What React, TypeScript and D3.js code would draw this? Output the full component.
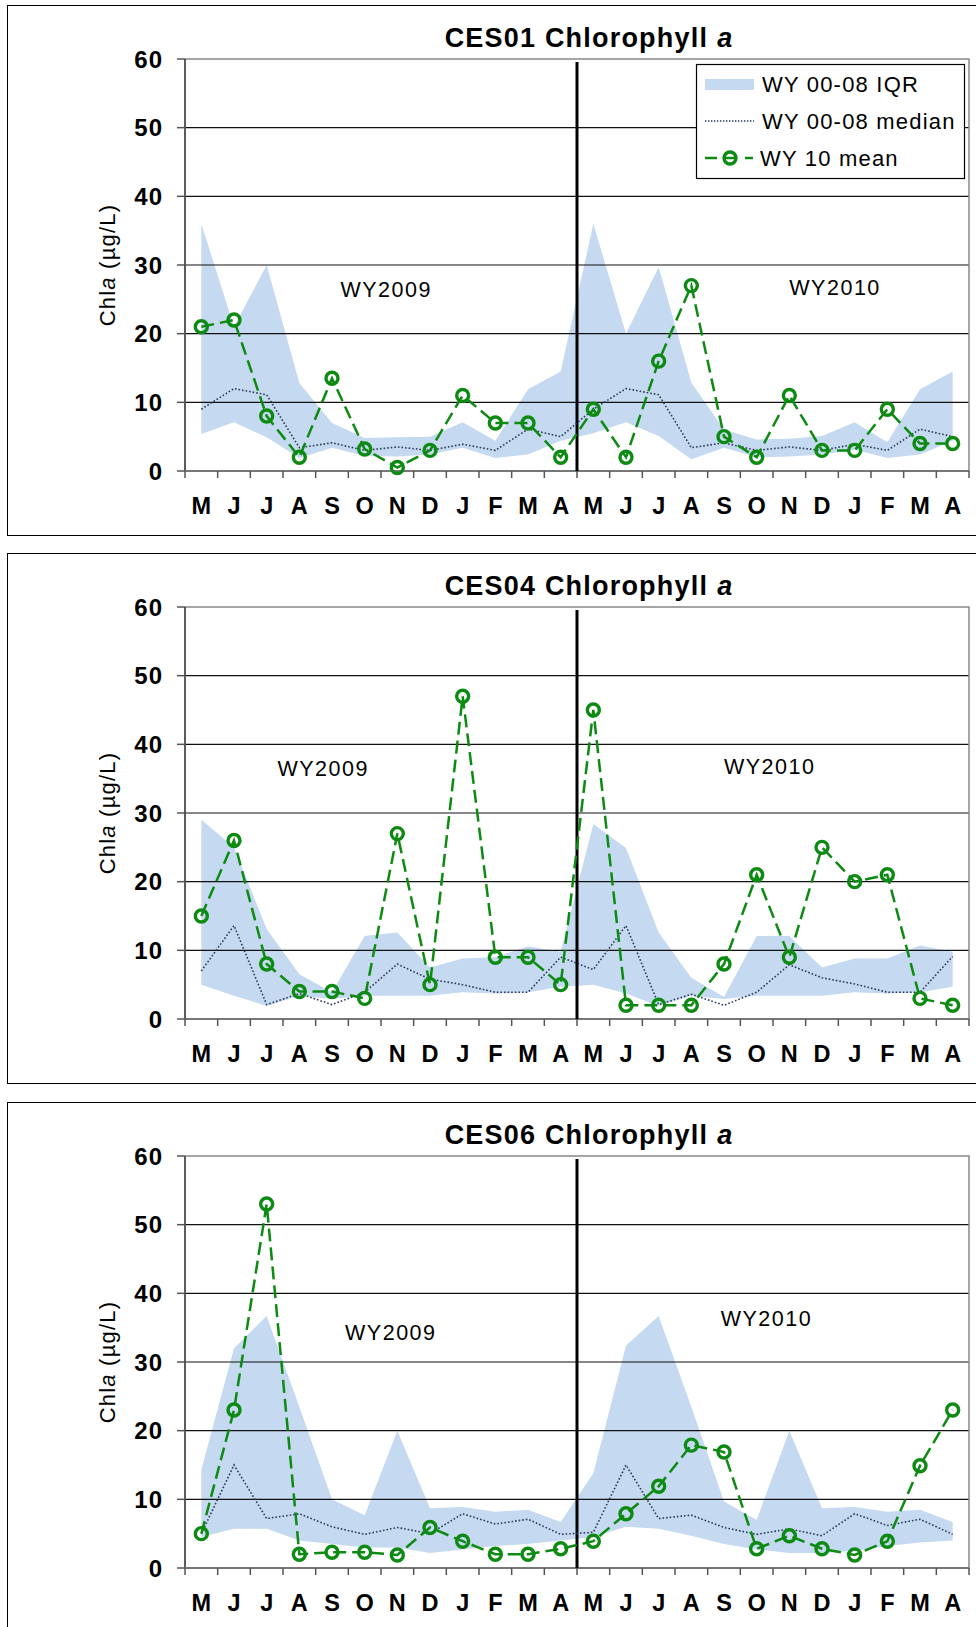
import React from 'react';
import * as d3 from 'd3';

// month of the two water years, May 2008 .. Apr 2010
const monthLabels = ['M', 'J', 'J', 'A', 'S', 'O', 'N', 'D', 'J', 'F', 'M', 'A',
  'M', 'J', 'J', 'A', 'S', 'O', 'N', 'D', 'J', 'F', 'M', 'A'];
const yTicks = [0, 10, 20, 30, 40, 50, 60];

// CES01
const ces01Mean = [21, 22, 8, 2, 13.5, 3.2, 0.5, 3, 11, 7, 7, 2, 9, 2, 16, 27, 5, 2, 11, 3, 3, 9, 4, 4];
const ces01Median = [9, 12, 11.1, 3.4, 4.1, 3, 3.5, 3, 3.9, 3, 6.1, 5, 9, 12, 11.1, 3.4, 4.1, 3, 3.5, 3, 3.9, 3, 6.1, 5];
const ces01Q3 = [36, 21, 30, 12.8, 7, 4.8, 4.9, 5, 7.1, 4.4, 11.9, 14.5, 36, 20, 29.7, 12.9, 6, 4.6, 4.7, 5.1, 7.1, 4.2, 11.9, 14.5];
const ces01Q1 = [5.4, 7.1, 4.9, 1.9, 3.4, 2.2, 2.1, 2.4, 3.4, 1.9, 2.4, 4.4, 5.5, 7.1, 5.1, 1.7, 3.4, 2, 2.1, 2.4, 3.1, 1.9, 2.4, 4.4];

// CES04
const ces04Mean = [15, 26, 8, 4, 4, 3, 27, 5, 47, 9, 9, 5, 45, 2, 2, 2, 8, 21, 9, 25, 20, 21, 3, 2];
const ces04Median = [7, 13.6, 2.1, 3.7, 2.1, 3.9, 8, 5.8, 5, 3.9, 3.9, 9, 7.2, 13.6, 2.1, 3.6, 2, 3.9, 7.9, 6, 5.1, 3.9, 3.9, 9.1];
const ces04Q3 = [29, 25, 13.1, 6.5, 3.9, 12.1, 12.6, 7.5, 8.8, 9, 10.6, 9.8, 28.4, 24.9, 12.6, 6, 3.2, 12.1, 12.1, 7.5, 8.8, 8.8, 10.7, 9.8];
const ces04Q1 = [5, 3.4, 1.9, 3.4, 2.9, 3.4, 3.4, 3.4, 3.9, 3.7, 3.9, 4.7, 5, 3.7, 1.9, 3.4, 2.9, 3.4, 3.4, 3.4, 3.9, 3.7, 3.9, 4.7];

// CES06
const ces06Mean = [5, 23, 53, 2, 2.3, 2.3, 1.9, 5.9, 3.9, 2, 2, 2.8, 3.9, 7.9, 11.9, 17.9, 16.9, 2.8, 4.7, 2.8, 1.9, 3.9, 14.9, 23];
const ces06Median = [5, 15, 7.2, 7.9, 6, 4.9, 5.9, 5, 7.9, 6.4, 7.1, 4.9, 5.2, 15, 7.2, 7.7, 5.9, 4.9, 5.7, 4.7, 7.9, 6.2, 7.1, 4.9];
const ces06Q3 = [14.3, 32, 36.7, 23.5, 10, 7.7, 20, 8.7, 8.9, 8.2, 8.5, 6.7, 13.8, 32.4, 36.7, 23.5, 9.7, 7, 20, 8.7, 8.9, 8.2, 8.5, 6.7];
const ces06Q1 = [4.5, 5.7, 5.7, 4, 3.5, 3, 3, 2.2, 2.7, 3.2, 3.5, 4, 4.5, 6, 5.7, 4.7, 3.5, 2.7, 2.2, 2.2, 2.5, 3.2, 3.7, 4];

const FONT = '"Liberation Sans", Arial, sans-serif';
const GREEN = '#0d8a12';
const BAND = '#c5daf0';

function Panel({ top, station, mean, median, q1, q3, wy09, wy10, legend }) {
  const left = 185, right = 969;
  const plotTop = top + 54, plotBottom = top + 466;

  const x = d3.scaleBand().domain(d3.range(monthLabels.length)).range([left, right]);
  const cx = (i) => x(i) + x.bandwidth() / 2;
  const y = d3.scaleLinear().domain([0, 60]).range([plotBottom, plotTop]);

  const band = d3.area().x((d, i) => cx(i)).y0((d, i) => y(q1[i])).y1((d) => y(d));
  const line = d3.line().x((d, i) => cx(i)).y((d) => y(d));

  const divX = x(12);

  return (
    <g>
      <rect x={7.5} y={top + 0.5} width={990} height={530} fill="#fff" stroke="#000" strokeWidth={1} />
      <text x={589} y={top + 42} textAnchor="middle" fontFamily={FONT} fontWeight="bold" fontSize={27} letterSpacing={1.2}>
        {station} Chlorophyll<tspan dx={9} fontStyle="italic">a</tspan>
      </text>

      <path d={band(q3)} fill={BAND} />

      {yTicks.map((t) => (
        <g key={t}>
          {t > 0 && t < 60 && <line x1={left} x2={right} y1={y(t)} y2={y(t)} stroke="#111" strokeWidth={1.2} />}
          <line x1={left - 8} x2={left} y1={y(t)} y2={y(t)} stroke="#555" strokeWidth={1.5} />
          <text x={163} y={y(t)} dy="0.36em" textAnchor="end" fontFamily={FONT} fontWeight="bold" fontSize={24} letterSpacing={1}>{t}</text>
        </g>
      ))}
      <rect x={left} y={plotTop} width={right - left} height={plotBottom - plotTop} fill="none" stroke="#888" strokeWidth={1.5} />
      <line x1={left} x2={left} y1={plotTop} y2={plotBottom} stroke="#444" strokeWidth={1.5} />
      <line x1={left} x2={right} y1={plotBottom} y2={plotBottom} stroke="#777" strokeWidth={2} />

      {d3.range(monthLabels.length + 1).map((i) => {
        const tx = i < monthLabels.length ? x(i) : right;
        return <line key={i} x1={tx} x2={tx} y1={plotBottom} y2={plotBottom + 7} stroke="#555" strokeWidth={1.5} />;
      })}
      {monthLabels.map((m, i) => (
        <text key={i} x={cx(i)} y={top + 501} dy="0.36em" textAnchor="middle" fontFamily={FONT} fontWeight="bold" fontSize={23.5}>{m}</text>
      ))}

      <text transform={`translate(107,${(plotTop + plotBottom) / 2}) rotate(-90)`} textAnchor="middle" dy="0.36em"
        fontFamily={FONT} fontSize={22} letterSpacing={1.2}>
        Chl<tspan fontStyle="italic">a</tspan> (µg/L)
      </text>

      <text x={cx(0) + (wy09[0]) * x.bandwidth()} y={y(wy09[1])} dy="0.36em" textAnchor="middle" fontFamily={FONT} fontSize={21.5} letterSpacing={1.5}>WY2009</text>
      <text x={cx(0) + (wy10[0]) * x.bandwidth()} y={y(wy10[1])} dy="0.36em" textAnchor="middle" fontFamily={FONT} fontSize={21.5} letterSpacing={1.5}>WY2010</text>

      <line x1={divX} x2={divX} y1={plotTop + 3} y2={plotBottom} stroke="#000" strokeWidth={3} />

      <path d={line(median)} fill="none" stroke="#2a3a5c" strokeWidth={1.6} strokeDasharray="1.6,2" />
      <path d={line(mean)} fill="none" stroke={GREEN} strokeWidth={2.5} strokeDasharray="13,6" />
      {mean.map((v, i) => (
        <circle key={i} cx={cx(i)} cy={y(v)} r={6} fill="none" stroke={GREEN} strokeWidth={3.4} />
      ))}

      {legend && (
        <g fontFamily={FONT} fontSize={22} letterSpacing={1.2}>
          <rect x={696.5} y={64.5} width={268} height={114} fill="#fff" stroke="#000" strokeWidth={1.2} />
          <rect x={705} y={79} width={49} height={11} fill={BAND} />
          <text x={762} y={84} dy="0.36em">WY 00-08 IQR</text>
          <line x1={705} x2={754} y1={121} y2={121} stroke="#2a3a5c" strokeWidth={1.4} strokeDasharray="1.4,1.6" />
          <text x={762} y={121} dy="0.36em">WY 00-08 median</text>
          <line x1={705} x2={717} y1={158} y2={158} stroke={GREEN} strokeWidth={2.5} />
          <circle cx={730} cy={158} r={6} fill="none" stroke={GREEN} strokeWidth={3.4} />
          <line x1={723} x2={737} y1={158} y2={158} stroke={GREEN} strokeWidth={2.5} />
          <line x1={745} x2={753} y1={158} y2={158} stroke={GREEN} strokeWidth={2.5} />
          <text x={760} y={158} dy="0.36em">WY 10 mean</text>
        </g>
      )}
    </g>
  );
}

export default function App() {
  return (
    <svg width={976} height={1627} style={{ position: 'absolute', left: 0, top: 0, background: '#fff' }}>
      <rect width={976} height={1627} fill="#fff" />
      <Panel top={5} station="CES01" mean={ces01Mean} median={ces01Median} q1={ces01Q1} q3={ces01Q3}
        wy09={[5.66, 26.4]} wy10={[19.4, 26.8]} legend />
      <Panel top={553} station="CES04" mean={ces04Mean} median={ces04Median} q1={ces04Q1} q3={ces04Q3}
        wy09={[3.73, 36.5]} wy10={[17.4, 36.8]} legend={false} />
      <Panel top={1102} station="CES06" mean={ces06Mean} median={ces06Median} q1={ces06Q1} q3={ces06Q3}
        wy09={[5.8, 34.3]} wy10={[17.3, 36.4]} legend={false} />
    </svg>
  );
}
